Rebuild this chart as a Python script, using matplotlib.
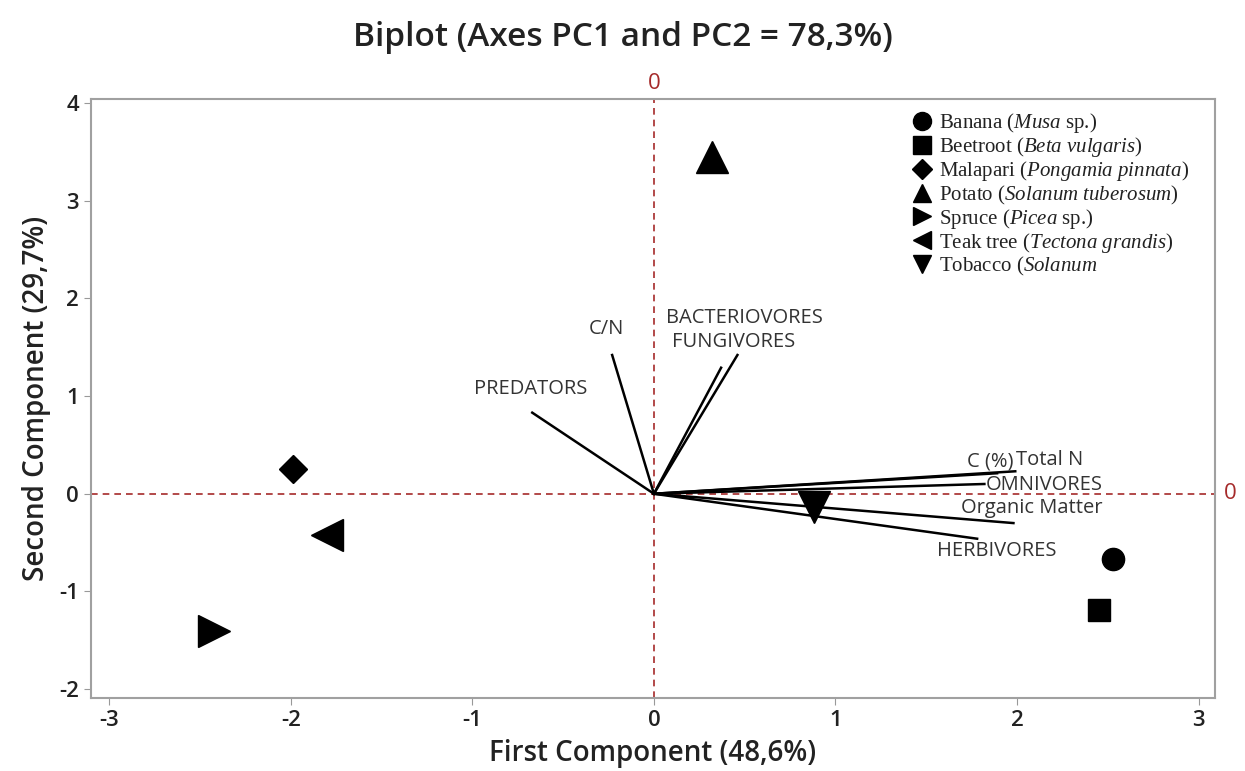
import numpy as np
import matplotlib.pyplot as plt
from matplotlib import rcParams

rcParams['font.family'] = ['Open Sans', 'DejaVu Sans']
rcParams['axes.unicode_minus'] = False
rcParams['mathtext.fontset'] = 'custom'
rcParams['mathtext.rm'] = 'Liberation Serif'
rcParams['mathtext.it'] = 'Liberation Serif:italic'

# --- scores (samples) ---
samples = ['Banana ($\\it{Musa}$ sp.)',
           'Beetroot ($\\it{Beta\\ vulgaris}$)',
           'Malapari ($\\it{Pongamia\\ pinnata}$)',
           'Potato ($\\it{Solanum\\ tuberosum}$)',
           'Spruce ($\\it{Picea}$ sp.)',
           'Teak tree ($\\it{Tectona\\ grandis}$)',
           'Tobacco ($\\it{Solanum}$']
markers = ['o', 's', 'D', '^', '>', '<', 'v']
pc1 = [2.53, 2.45, -1.99, 0.32, -2.42, -1.80, 0.88]
pc2 = [-0.67, -1.19, 0.25, 3.45, -1.40, -0.42, -0.14]
msizes = [16, 16, 14, 23, 23, 23, 23]

# --- loadings (variables) ---
variables = ['PREDATORS', 'C/N', 'FUNGIVORES', 'BACTERIOVORES', 'C (%)',
             'Total N', 'OMNIVORES', 'Organic Matter', 'HERBIVORES']
load1 = [-0.67, -0.23, 0.37, 0.46, 1.89, 1.99, 1.82, 1.98, 1.78]
load2 = [0.83, 1.42, 1.29, 1.42, 0.21, 0.23, 0.10, -0.30, -0.46]
lab_x = [-0.68, -0.26, 0.44, 0.50, 1.85, 2.18, 2.15, 2.08, 1.89]
lab_y = [1.07, 1.69, 1.55, 1.80, 0.33, 0.35, 0.09, -0.15, -0.59]

fig = plt.figure(figsize=(12.45, 7.71), dpi=100)
ax = fig.add_axes([0.0731, 0.0947, 0.9028, 0.7769])

red = '#a52a2a'
ax.axvline(0, color=red, ls='--', lw=1.2, dashes=(4, 3), zorder=1)
ax.axhline(0, color=red, ls='--', lw=1.2, dashes=(4, 3), zorder=1)

for x, y, lx, ly, name in zip(load1, load2, lab_x, lab_y, variables):
    ax.plot([0, x], [0, y], color='black', lw=1.8, zorder=2)
    ax.text(lx, ly, name, ha='center', va='center', fontsize=14.5, color='#333333')

for x, y, m, ms, name in zip(pc1, pc2, markers, msizes, samples):
    ax.plot(x, y, marker=m, color='black', ms=ms, ls='none', zorder=3)

# legend built from the same marker list
handles = [plt.Line2D([], [], marker=m, color='black', ls='none',
                      ms=(10 if m == 'D' else 13)) for m in markers]
leg = ax.legend(handles, samples, loc='upper right', bbox_to_anchor=(0.988, 1.0),
                frameon=False, fontsize=15, handlelength=0.7, handletextpad=0.45,
                labelspacing=0.0, borderaxespad=0.2)
for t in leg.get_texts():
    t.set_family('Liberation Serif')
    t.set_color('#222222')

ax.set_xlim(-3.10, 3.09)
ax.set_ylim(-2.09, 4.04)
ax.set_xticks(np.arange(-3, 4, 1))
ax.set_yticks(np.arange(-2, 5, 1))
ax.tick_params(direction='out', length=5, color='#999999', labelsize=16,
               labelcolor='#222222')
for lbl in ax.get_xticklabels() + ax.get_yticklabels():
    lbl.set_fontweight('semibold')
for s in ax.spines.values():
    s.set_color('#a0a0a0')
    s.set_linewidth(1.5)

# red zero markers outside the axes
ax.text(0, 1.008, '0', transform=ax.get_xaxis_transform(), ha='center', va='bottom',
        color=red, fontsize=16)
ax.text(1.008, 0, '0', transform=ax.get_yaxis_transform(), ha='left', va='center',
        color=red, fontsize=16)

ax.set_xlabel('First Component (48,6%)', fontsize=20, fontweight='semibold',
              color='#222222', labelpad=6)
ax.set_ylabel('Second Component (29,7%)', fontsize=20, fontweight='semibold',
              color='#222222', labelpad=6)
fig.text(0.5, 1 - 38 / 771, 'Biplot (Axes PC1 and PC2 = 78,3%)', ha='center', va='center',
         fontsize=24, fontweight='semibold', color='#222222')

fig.savefig('out.png', dpi=100)
